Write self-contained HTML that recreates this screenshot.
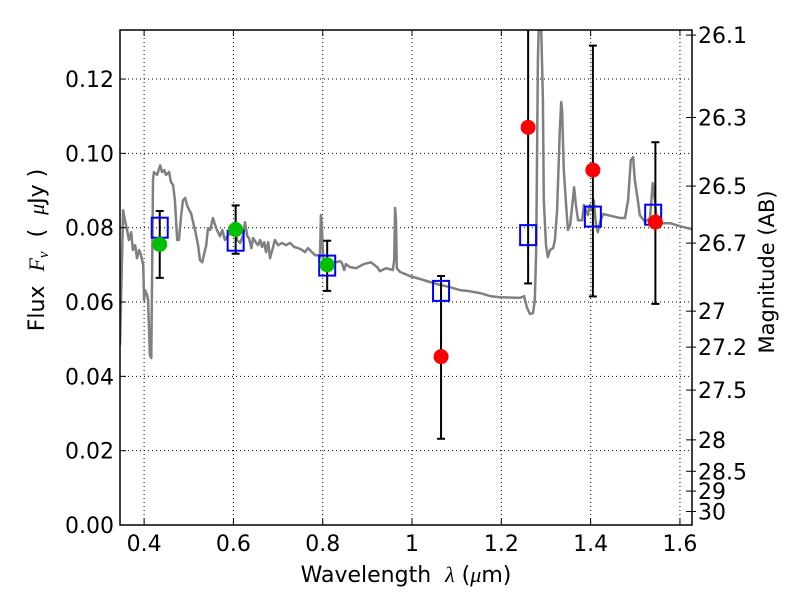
<!DOCTYPE html>
<html><head><meta charset="utf-8"><style>
html,body{margin:0;padding:0;background:#fff;}
svg text{font-family:"DejaVu Sans","Liberation Sans",sans-serif;white-space:pre;}
</style></head><body>
<svg id="chart" width="800" height="600" xmlns="http://www.w3.org/2000/svg">
<rect width="800" height="600" fill="#fff"/>
<defs><clipPath id="clip"><rect x="120" y="30" width="572" height="495"/></clipPath></defs>
<g id="grid"></g>
<g id="spec" clip-path="url(#clip)"></g>
<g id="marks" clip-path="url(#clip)"></g>
<rect x="120" y="30" width="572" height="495" fill="none" stroke="#000" stroke-width="1.5"/>
<g id="axes"></g>
<text x="406" y="582" font-size="22" text-anchor="middle">Wavelength  <tspan font-family="Liberation Serif" font-style="italic">λ</tspan> (<tspan font-family="Liberation Serif" font-style="italic">μ</tspan>m)</text>
<text transform="translate(44,250) rotate(-90)" font-size="22" text-anchor="middle">Flux  <tspan font-family="Liberation Serif" font-style="italic">F<tspan font-size="15" dy="4">ν</tspan></tspan><tspan dy="-4">  (  </tspan><tspan font-family="Liberation Serif" font-style="italic">μ</tspan>Jy )</text>
<text transform="translate(774,272) rotate(-90)" font-size="21" text-anchor="middle">Magnitude (AB)</text>
</svg>
<script>
const specWave=[0.346,0.353,0.357,0.362,0.366,0.371,0.375,0.380,0.384,0.389,0.393,0.398,0.400,0.402,0.407,0.409,0.413,0.416,0.420,0.422,0.429,0.436,0.440,0.445,0.449,0.456,0.460,0.465,0.469,0.474,0.478,0.483,0.487,0.492,0.496,0.501,0.505,0.514,0.521,0.525,0.530,0.534,0.539,0.543,0.548,0.554,0.559,0.563,0.570,0.575,0.581,0.588,0.595,0.599,0.604,0.608,0.615,0.622,0.626,0.631,0.635,0.640,0.644,0.651,0.655,0.660,0.664,0.669,0.673,0.678,0.682,0.687,0.693,0.700,0.709,0.718,0.727,0.736,0.745,0.754,0.760,0.767,0.776,0.783,0.790,0.794,0.796,0.798,0.801,0.805,0.816,0.830,0.839,0.843,0.848,0.852,0.861,0.875,0.892,0.908,0.922,0.928,0.942,0.957,0.960,0.962,0.964,0.966,0.973,0.995,1.018,1.040,1.063,1.085,1.107,1.130,1.152,1.175,1.197,1.242,1.251,1.257,1.264,1.271,1.275,1.278,1.280,1.282,1.284,1.289,1.293,1.295,1.300,1.304,1.309,1.316,1.320,1.325,1.331,1.334,1.336,1.340,1.345,1.349,1.354,1.360,1.363,1.367,1.372,1.381,1.385,1.394,1.398,1.403,1.407,1.412,1.416,1.421,1.428,1.448,1.466,1.477,1.484,1.490,1.495,1.499,1.504,1.510,1.522,1.533,1.537,1.539,1.544,1.548,1.555,1.578,1.600,1.627];
const specFlux=[0.0484,0.0847,0.0820,0.0794,0.0767,0.0788,0.0740,0.0753,0.0718,0.0740,0.0726,0.0699,0.0605,0.0632,0.0619,0.0605,0.0457,0.0449,0.0928,0.0950,0.0942,0.0968,0.0950,0.0955,0.0942,0.0950,0.0923,0.0915,0.0874,0.0767,0.0767,0.0834,0.0874,0.0880,0.0861,0.0847,0.0839,0.0794,0.0753,0.0713,0.0707,0.0726,0.0753,0.0799,0.0794,0.0826,0.0807,0.0794,0.0777,0.0794,0.0767,0.0780,0.0785,0.0807,0.0799,0.0767,0.0759,0.0780,0.0815,0.0777,0.0772,0.0745,0.0772,0.0759,0.0753,0.0767,0.0748,0.0761,0.0734,0.0761,0.0718,0.0740,0.0767,0.0753,0.0759,0.0753,0.0759,0.0748,0.0745,0.0740,0.0734,0.0745,0.0734,0.0726,0.0726,0.0718,0.0834,0.0807,0.0718,0.0707,0.0707,0.0707,0.0710,0.0705,0.0686,0.0702,0.0694,0.0691,0.0702,0.0707,0.0694,0.0683,0.0691,0.0686,0.0713,0.0853,0.0820,0.0691,0.0681,0.0670,0.0662,0.0654,0.0646,0.0640,0.0632,0.0629,0.0624,0.0616,0.0613,0.0611,0.0616,0.0586,0.0568,0.0570,0.0605,0.0740,0.1009,0.1251,0.135,0.135,0.1143,0.0874,0.0753,0.0721,0.0740,0.0745,0.0767,0.0847,0.1063,0.1138,0.1116,0.0955,0.0861,0.0794,0.0807,0.0874,0.0909,0.0861,0.0820,0.0820,0.0861,0.0834,0.0861,0.0847,0.0874,0.0807,0.0788,0.0815,0.0837,0.0831,0.0826,0.0826,0.0874,0.0982,0.0990,0.0928,0.0888,0.0834,0.0815,0.0826,0.0888,0.0920,0.0874,0.0820,0.0812,0.0812,0.0804,0.0796];
const modelWave=[0.435,0.605,0.81,1.065,1.26,1.405,1.54];
const modelFlux=[0.080,0.0765,0.0698,0.063,0.078,0.083,0.0835];
const greenWave=[0.435,0.605,0.81];
const greenFlux=[0.0755,0.0795,0.070];
const greenLo=[0.0665,0.073,0.063];
const greenHi=[0.0845,0.086,0.0765];
const redWave=[1.065,1.26,1.405,1.545];
const redFlux=[0.0453,0.107,0.0955,0.0815];
const redLo=[0.0232,0.065,0.0615,0.0595];
const redHi=[0.067,0.14,0.129,0.103];
const xTicks=[0.4,0.6,0.8,1.0,1.2,1.4,1.6];
const xTickLabels=["0.4","0.6","0.8","1","1.2","1.4","1.6"];
const yTicks=[0,0.02,0.04,0.06,0.08,0.10,0.12];
const yTickLabels=["0.00","0.02","0.04","0.06","0.08","0.10","0.12"];
const magTicks=[26.1,26.3,26.5,26.7,27,27.2,27.5,28,28.5,29,30];
const magTickLabels=["26.1","26.3","26.5","26.7","27","27.2","27.5","28","28.5","29","30"];

const NS="http://www.w3.org/2000/svg";
const X0=0.346,X1=1.627,Y0=0,Y1=0.1332,L=120,R=692,T=30,B=525;
function sx(v){return L+(v-X0)/(X1-X0)*(R-L);}
function sy(v){return B-(v-Y0)/(Y1-Y0)*(B-T);}
function magToFlux(m){return Math.pow(10,(23.9-m)/2.5);}
function mk(tag,attrs,parent){const e=document.createElementNS(NS,tag);for(const k in attrs)e.setAttribute(k,attrs[k]);parent.appendChild(e);return e;}
const grid=document.getElementById('grid'),axes=document.getElementById('axes'),spec=document.getElementById('spec'),marks=document.getElementById('marks');

xTicks.forEach((t,i)=>{const x=sx(t);
 const g=mk('line',{x1:x,x2:x,y1:T,y2:B,stroke:'#000','stroke-width':1,'stroke-dasharray':'1,3'},grid);
 
 
 mk('line',{x1:x,x2:x,y1:B,y2:B-6,stroke:'#000'},axes);
 mk('line',{x1:x,x2:x,y1:T,y2:T+6,stroke:'#000'},axes);
 const tx=mk('text',{x:x,y:B+26,'font-size':22,'text-anchor':'middle'},axes);tx.textContent=xTickLabels[i];
 
 
});
yTicks.forEach((t,i)=>{const y=sy(t);
 const g=mk('line',{x1:L,x2:R,y1:y,y2:y,stroke:'#000','stroke-width':1,'stroke-dasharray':'1,3'},grid);
 
 
 mk('line',{x1:L,x2:L+6,y1:y,y2:y,stroke:'#000'},axes);
 const tx=mk('text',{x:L-6,y:y+8,'font-size':22,'text-anchor':'end'},axes);tx.textContent=yTickLabels[i];
 
 
});
magTicks.forEach((m,i)=>{const y=sy(magToFlux(m));
 mk('line',{x1:R-6,x2:R+4,y1:y,y2:y,stroke:'#000'},axes);
 const tx=mk('text',{x:R+6,y:y+8,'font-size':22},axes);tx.textContent=magTickLabels[i];
 
 
});
let d='';specWave.forEach((w,i)=>{d+=(i?'L':'M')+sx(w).toFixed(1)+','+sy(specFlux[i]).toFixed(1);});
const sp=mk('path',{d:d,fill:'none',stroke:'#808080','stroke-width':2.5,'stroke-linejoin':'round'},spec);



function errbar(x,lo,hi){const px=sx(x);
 mk('line',{x1:px,x2:px,y1:sy(lo),y2:sy(hi),stroke:'#000','stroke-width':2},marks);
 mk('line',{x1:px-4,x2:px+4,y1:sy(lo),y2:sy(lo),stroke:'#000','stroke-width':2},marks);
 mk('line',{x1:px-4,x2:px+4,y1:sy(hi),y2:sy(hi),stroke:'#000','stroke-width':2},marks);}
greenWave.forEach((w,i)=>errbar(w,greenLo[i],greenHi[i]));
redWave.forEach((w,i)=>errbar(w,redLo[i],redHi[i]));
modelWave.forEach((w,i)=>{const r=mk('rect',{x:sx(w)-8,y:sy(modelFlux[i])-10,width:16,height:20,fill:'none',stroke:'#0000ff','stroke-width':2},marks);
 
 });
greenWave.forEach((w,i)=>{const c=mk('circle',{cx:sx(w),cy:sy(greenFlux[i]),r:7.5,fill:'#00c000'},marks);
 
 });
redWave.forEach((w,i)=>{const c=mk('circle',{cx:sx(w),cy:sy(redFlux[i]),r:7.5,fill:'#ff0000'},marks);
 
 });
</script>
</body></html>
